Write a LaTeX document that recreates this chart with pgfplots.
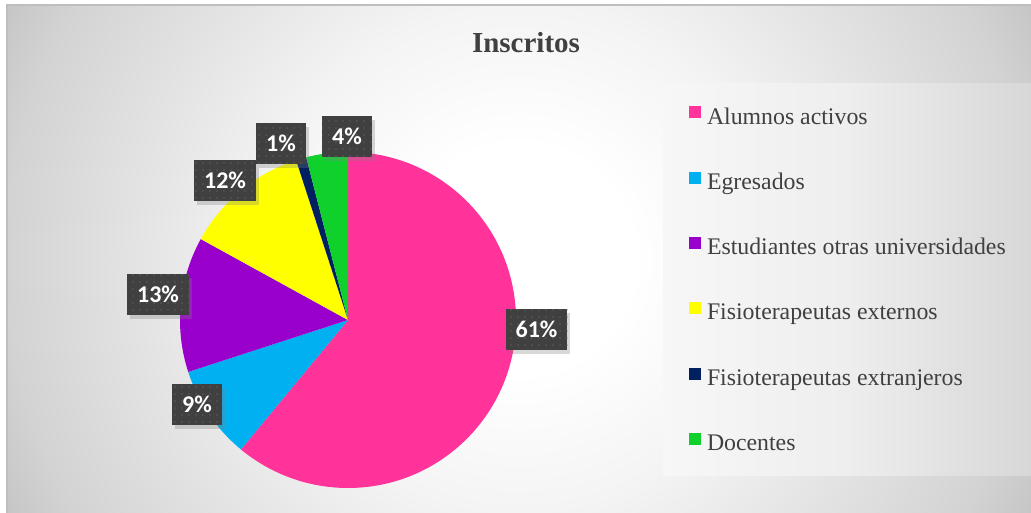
\documentclass[border=0pt]{standalone}
\usepackage{pgfplots}
\pgfplotsset{compat=1.18}
\usepackage{pgfplotstable}
\usetikzlibrary{shadows,patterns.meta}
\usepackage{fontspec}
\setmainfont{Liberation Serif}
\newfontfamily\labelfont{Carlito}

\definecolor{cpink}{RGB}{255,51,153}
\definecolor{ccyan}{RGB}{0,176,240}
\definecolor{cpurple}{RGB}{153,0,204}
\definecolor{cyellow}{RGB}{255,255,0}
\definecolor{cnavy}{RGB}{0,32,96}
\definecolor{cgreen}{RGB}{16,208,44}
\definecolor{textgray}{RGB}{64,64,64}
\definecolor{labelbox}{RGB}{64,64,64}
\definecolor{dotgray}{RGB}{92,92,92}
\definecolor{bordergray}{RGB}{190,190,190}
\definecolor{bgA}{RGB}{244,244,244}
\definecolor{bgB}{RGB}{211,211,211}
\definecolor{bgC}{RGB}{198,198,198}
\definecolor{lgA}{RGB}{247,247,247}
\definecolor{lgB}{RGB}{238,238,238}
\definecolor{lgC}{RGB}{215,215,215}

% fondo radial (circular, centrado en el area del grafico)
\pgfdeclareradialshading{fondo}{\pgfpoint{0bp}{0bp}}{color(0bp)=(white); color(5bp)=(white);
  color(11bp)=(bgA); color(22.4bp)=(bgB); color(25bp)=(bgC); color(50bp)=(bgC)}
\pgfdeclarehorizontalshading{leyenda}{100bp}{color(0bp)=(lgA); color(25bp)=(lgA);
  color(50bp)=(lgB); color(75bp)=(lgC); color(100bp)=(lgC)}

% ---- datos: porcentaje, color y posicion de la etiqueta ----
\pgfplotstableread[col sep=comma]{
nombre,valor,color,lx,ly
Alumnos activos,61,cpink,1.122,-0.057
Egresados,9,ccyan,-0.899,-0.503
Estudiantes otras universidades,13,cpurple,-1.131,0.152
Fisioterapeutas externos,12,cyellow,-0.732,0.830
Fisioterapeutas extranjeros,1,cnavy,-0.399,1.051
Docentes,4,cgreen,-0.006,1.092
}\datos

\begin{document}
\begin{tikzpicture}
\useasboundingbox (0,0) rectangle (1031pt,513pt);
\fill[white] (0,0) rectangle (1031pt,513pt);

% ---- fondo del area del grafico ----
\begin{scope}
  \clip (7pt,0) rectangle (1031pt,508pt);
  \shade[shading=fondo] (-52pt,-317pt) rectangle (1090pt,825pt);
\end{scope}
\draw[bordergray, line width=1.2pt] (7pt,0) -- (7pt,508pt) -- (1031pt,508pt);

% ---- caja de la leyenda ----
\shade[shading=leyenda] (663pt,37pt) rectangle (1031pt,429pt);

% ---- titulo ----
\node[anchor=base, text=textgray, font=\bfseries\fontsize{29}{34}\selectfont]
  at (526pt,460pt) {Inscritos};

\begin{axis}[
    at={(348pt,193pt)}, anchor=center,
    scale only axis,
    width=336pt, height=336pt,
    xmin=-1, xmax=1, ymin=-1, ymax=1,
    enlargelimits=false,
    hide axis,
    clip=false,
    legend style={
        at={(axis description cs:1.5149,1.1354)}, anchor=north west,
        draw=none, fill=none, inner sep=0pt, outer sep=0pt,
        font=\fontsize{23.8}{28}\selectfont, text=textgray,
        row sep=42.8pt, column sep=6pt,
        nodes={inner sep=0pt, text height=16pt, text depth=5pt},
    },
    legend cell align=left,
    legend image code/.code={\fill[#1, draw=none] (0pt,0pt) rectangle (12pt,12pt);},
]

% ---- porciones (sentido horario desde las 12) ----
\pgfplotstablegetrowsof{\datos}
\pgfmathtruncatemacro\nfilas{\pgfplotsretval-1}
\def\angulo{90}
\pgfplotsforeachungrouped \i in {0,...,\nfilas}{
  \pgfplotstablegetelem{\i}{valor}\of\datos \let\v\pgfplotsretval
  \pgfplotstablegetelem{\i}{color}\of\datos \let\c\pgfplotsretval
  \pgfplotstablegetelem{\i}{nombre}\of\datos \let\n\pgfplotsretval
  \pgfmathsetmacro\fin{\angulo-3.6*\v}
  \edef\temp{%
    \noexpand\fill[\c] (axis cs:0,0) -- ++(\angulo:168pt)
      arc[start angle=\angulo, end angle=\fin, radius=168pt] -- cycle;
    \noexpand\addlegendimage{fill=\c, draw=none}
    \noexpand\addlegendentry{\n}
  }\temp
  \global\let\angulo\fin
}

% ---- etiquetas de datos ----
\addplot[draw=none, mark=none, forget plot,
    point meta=explicit,
    /pgf/number format/assume math mode=true,
    nodes near coords={\pgfmathprintnumber{\pgfplotspointmeta}\%},
    every node near coord/.style={
        anchor=center, fill=labelbox, text=white,
        font=\labelfont\bfseries\fontsize{24}{28}\selectfont,
        inner xsep=10pt, inner ysep=0pt, minimum height=41pt,
        drop shadow={opacity=0.3, shadow xshift=3pt, shadow yshift=-4pt},
        postaction={pattern={Dots[distance=7pt, radius=0.8pt]}, pattern color=dotgray},
    },
] table[x=lx, y=ly, meta=valor] {\datos};

\end{axis}
\end{tikzpicture}
\end{document}
